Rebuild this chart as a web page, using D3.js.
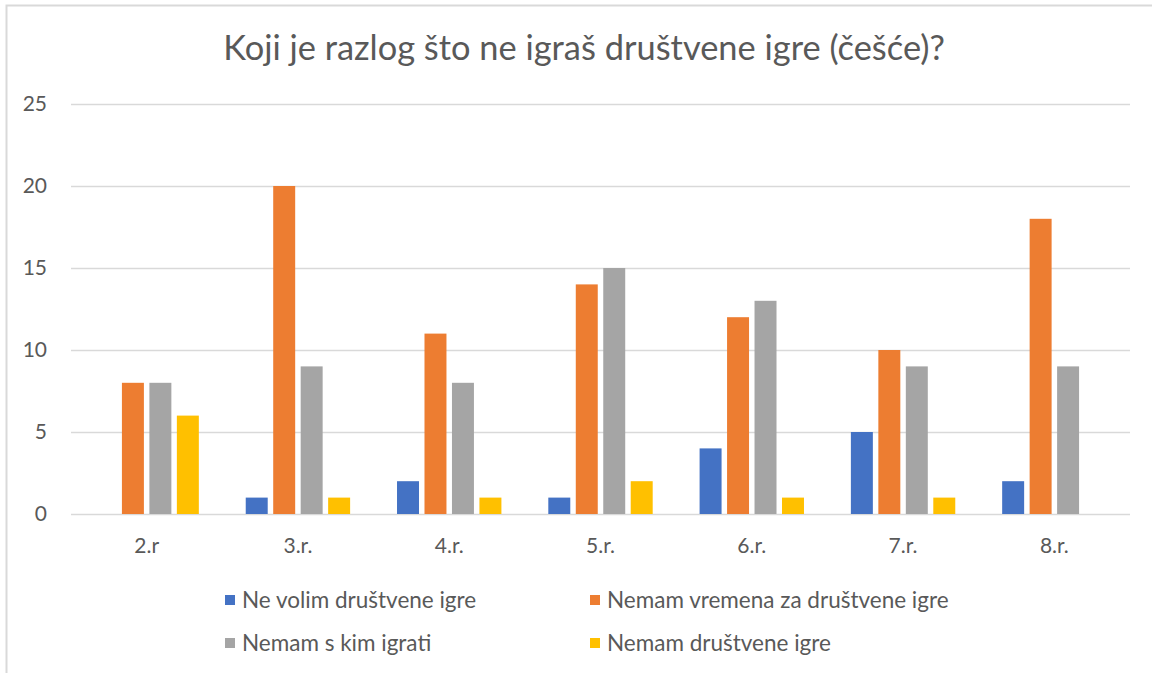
<!DOCTYPE html>
<html>
<head>
<meta charset="utf-8">
<script src="https://cdn.jsdelivr.net/npm/d3@7"></script>
<style>
  html, body { margin: 0; padding: 0; background: #fff; }
  svg text { font-family: Lato, "Open Sans", sans-serif; fill: #595959; }
</style>
</head>
<body>
<div id="chart"></div>
<script>
const title = "Koji je razlog što ne igraš društvene igre (češće)?";
const categories = ["2.r", "3.r.", "4.r.", "5.r.", "6.r.", "7.r.", "8.r."];
const seriesNames = [
  "Ne volim društvene igre",
  "Nemam vremena za društvene igre",
  "Nemam s kim igrati",
  "Nemam društvene igre"
];
const neVolim = [0, 1, 2, 1, 4, 5, 2];
const nemamVremena = [8, 20, 11, 14, 12, 10, 18];
const nemamSKim = [8, 9, 8, 15, 13, 9, 9];
const nemamIgre = [6, 1, 1, 2, 1, 1, 0];
const yTicks = [0, 5, 10, 15, 20, 25];

const seriesValues = [neVolim, nemamVremena, nemamSKim, nemamIgre];
const colors = ["#4472C4", "#ED7D31", "#A5A5A5", "#FFC000"];

const width = 1152, height = 673;
const svg = d3.select("#chart").append("svg")
  .attr("width", width)
  .attr("height", height);

// outer chart frame (only top/left edges are in view)
svg.append("rect")
  .attr("x", 6.5).attr("y", 5.5)
  .attr("width", 2000).attr("height", 2000)
  .attr("fill", "none")
  .attr("stroke", "#d9d9d9")
  .attr("stroke-width", 2);

// fit a text element to a target width
function fitText(sel, target, start) {
  let fs = start;
  sel.style("font-size", fs + "px");
  const w = sel.node().getComputedTextLength();
  fs = fs * target / w;
  sel.style("font-size", fs + "px");
}

const titleText = svg.append("text")
  .attr("x", 584).attr("y", 60)
  .attr("text-anchor", "middle")
  .text(title);
fitText(titleText, 722, 30);

const x0 = d3.scaleBand()
  .domain(categories)
  .range([71, 1130])
  .paddingInner(0.31)
  .paddingOuter(0.155);

const x1 = d3.scaleBand()
  .domain(d3.range(seriesNames.length))
  .range([0, x0.bandwidth()])
  .paddingInner(0.2);

const y = d3.scaleLinear().domain([0, 25]).range([514, 104]);

// gridlines
svg.append("g")
  .selectAll("line")
  .data(yTicks)
  .join("line")
  .attr("x1", 71).attr("x2", 1130)
  .attr("y1", d => Math.round(y(d)) + 0.5)
  .attr("y2", d => Math.round(y(d)) + 0.5)
  .attr("stroke", "#d9d9d9")
  .attr("stroke-width", 1.3);

// y tick labels
svg.append("g")
  .selectAll("text")
  .data(yTicks)
  .join("text")
  .attr("x", 47)
  .attr("y", d => y(d))
  .attr("dy", "0.35em")
  .attr("text-anchor", "end")
  .style("font-size", "21px")
  .text(d => d);

// bars
const groups = svg.append("g")
  .selectAll("g")
  .data(categories)
  .join("g")
  .attr("transform", d => `translate(${x0(d)},0)`);

groups.selectAll("rect")
  .data((c, i) => seriesValues.map((vals, s) => ({ s: s, v: vals[i] })))
  .join("rect")
  .filter(d => d.v > 0)
  .attr("x", d => x1(d.s))
  .attr("y", d => y(d.v))
  .attr("width", x1.bandwidth())
  .attr("height", d => y(0) - y(d.v))
  .attr("fill", d => colors[d.s]);

// category labels
svg.append("g")
  .selectAll("text")
  .data(categories)
  .join("text")
  .attr("x", d => x0(d) + x0.bandwidth() / 2)
  .attr("y", 553)
  .attr("text-anchor", "middle")
  .style("font-size", "21px")
  .text(d => d);

// legend, 2 x 2
const legendPos = [[225, 600], [590, 600], [225, 643], [590, 643]];
const legend = svg.append("g")
  .selectAll("g")
  .data(seriesNames)
  .join("g")
  .attr("transform", (d, i) => `translate(${legendPos[i][0]},${legendPos[i][1]})`);

legend.append("rect")
  .attr("x", 0).attr("y", -5)
  .attr("width", 10).attr("height", 10)
  .attr("fill", (d, i) => colors[i]);

legend.append("text")
  .attr("x", 17)
  .attr("y", 0)
  .attr("dy", "0.35em")
  .style("font-size", "22.5px")
  .text(d => d);
</script>
</body>
</html>
